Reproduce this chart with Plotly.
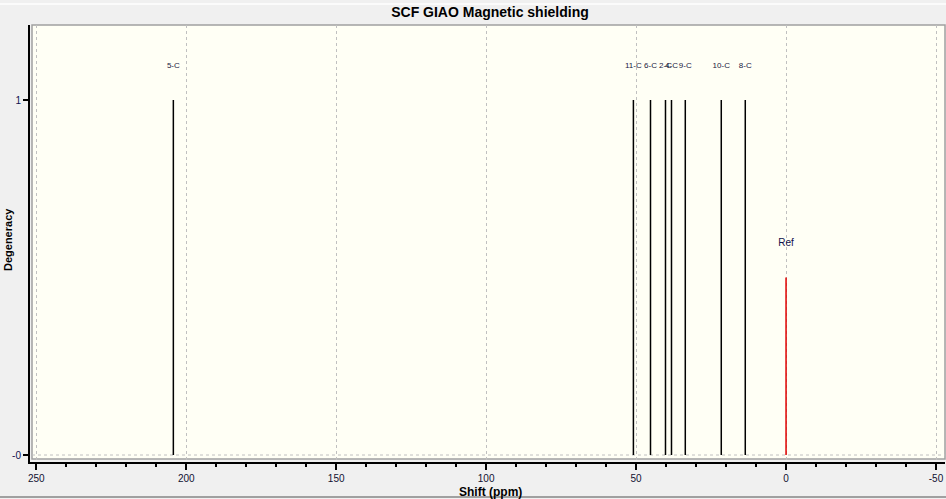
import plotly.graph_objects as go

# Data
shifts = [204.3, 50.9, 45.2, 40.2, 38.2, 33.6, 21.6, 13.6]
degeneracy = [1, 1, 1, 1, 1, 1, 1, 1]
peak_labels = ["5-C", "11-C", "6-C", "2-C", "4-C", "9-C", "10-C", "8-C"]
ref_shift = [0.0]
ref_height = [0.5]
ref_label = ["Ref"]
x_ticks = [250, 200, 150, 100, 50, 0, -50]
y_ticks = [0, 1]
y_ticktext = ["-0", "1"]

W, H = 946, 499
ml, mr, mt, mb = 30, 1, 25, 37
pw, ph = W - ml - mr, H - mt - mb

def stems(xs, ys):
    X, Y = [], []
    for x, y in zip(xs, ys):
        X += [x, x, None]
        Y += [0, y, None]
    return X, Y

FONT = "Liberation Sans, Arial"

fig = go.Figure()
sx, sy = stems(shifts, degeneracy)
fig.add_trace(go.Scatter(x=sx, y=sy, mode="lines", line=dict(color="black", width=1.5),
                         hoverinfo="skip", showlegend=False))
rx, ry = stems(ref_shift, ref_height)
fig.add_trace(go.Scatter(x=rx, y=ry, mode="lines", line=dict(color="#e00000", width=1.5),
                         hoverinfo="skip", showlegend=False))
fig.add_trace(go.Scatter(x=shifts, y=[d + 0.097 for d in degeneracy], mode="text",
                         text=peak_labels, textfont=dict(size=8, color="#202040", family=FONT),
                         showlegend=False, hoverinfo="skip"))
fig.add_trace(go.Scatter(x=ref_shift, y=[h + 0.097 for h in ref_height], mode="text",
                         text=ref_label, textfont=dict(size=10, color="#10104a", family=FONT),
                         showlegend=False, hoverinfo="skip"))

ivory = "#fffff5"
gray = "#f0f0f0"
shapes = [
    dict(type="rect", xref="paper", yref="paper", x0=2 / pw, x1=1, y0=3 / ph, y1=1,
         fillcolor=ivory, line=dict(color="#a0a0a0", width=1.5), layer="below"),
    dict(type="line", xref="paper", yref="y", x0=2 / pw, x1=1, y0=0, y1=0,
         line=dict(color="#c0c0c0", width=1, dash="dot"), layer="below"),
    dict(type="line", xref="paper", yref="paper", x0=-ml / pw, x1=1 + mr / pw,
         y0=1 + (mt - 4) / ph, y1=1 + (mt - 4) / ph, line=dict(color="white", width=1.5)),
    dict(type="line", xref="paper", yref="paper", x0=-ml / pw, x1=1 + mr / pw,
         y0=-(497 - (mt + ph)) / ph, y1=-(497 - (mt + ph)) / ph, line=dict(color="#a0a0a0", width=2)),
]

annotations = [
    dict(text="<b>Shift (ppm)</b>", xref="paper", yref="paper",
         x=(490 - ml) / pw, y=-(492 - (mt + ph)) / ph, xanchor="center", yanchor="middle",
         showarrow=False, font=dict(size=12, color="black", family=FONT)),
    dict(text="<b>Degeneracy</b>", xref="paper", yref="paper",
         x=-(ml - 8) / pw, y=(mt + ph - 240) / ph, xanchor="center", yanchor="middle",
         textangle=-90, showarrow=False, font=dict(size=11, color="black", family=FONT)),
]

x_lo = 250 + (36.3 - ml) / 3
x_hi = -(W - mr - 786) / 3
y_lo = -7 / 355
y_hi = (ph - 7) / 355

fig.update_layout(
    width=W, height=H,
    margin=dict(l=ml, r=mr, t=mt, b=mb, pad=0, autoexpand=False),
    paper_bgcolor=gray, plot_bgcolor=gray,
    font=dict(family=FONT, color="black"),
    title=dict(text="<b>SCF GIAO Magnetic shielding</b>", x=490 / W, xanchor="center",
               y=1 - 12 / H, yanchor="middle", font=dict(size=14, color="black"),
               automargin=False),
    shapes=shapes,
    annotations=annotations,
    xaxis=dict(range=[x_lo, x_hi], tickvals=x_ticks, ticktext=[str(v) for v in x_ticks],
               automargin=False,
               showgrid=True, gridcolor="#c0c0c0", griddash="dot", gridwidth=1,
               showline=True, linecolor="black", linewidth=2, ticks="outside", ticklen=6,
               tickwidth=1.5, tickcolor="black", zeroline=False,
               minor=dict(dtick=10, ticks="outside", ticklen=3, tickcolor="black", tickwidth=1.5,
                          showgrid=False),
               tickfont=dict(size=10, color="#101030")),
    yaxis=dict(range=[y_lo, y_hi], tickvals=y_ticks, ticktext=y_ticktext, showgrid=False,
               automargin=False,
               zeroline=False, showline=True, linecolor="black", linewidth=2, ticks="outside",
               ticklen=5, tickwidth=1.5, tickcolor="black",
               tickfont=dict(size=10, color="#101050")),
)

fig.write_html("out.html", config={"displayModeBar": False},
               post_script="document.body.style.margin='0';document.body.style.overflow='hidden';")
